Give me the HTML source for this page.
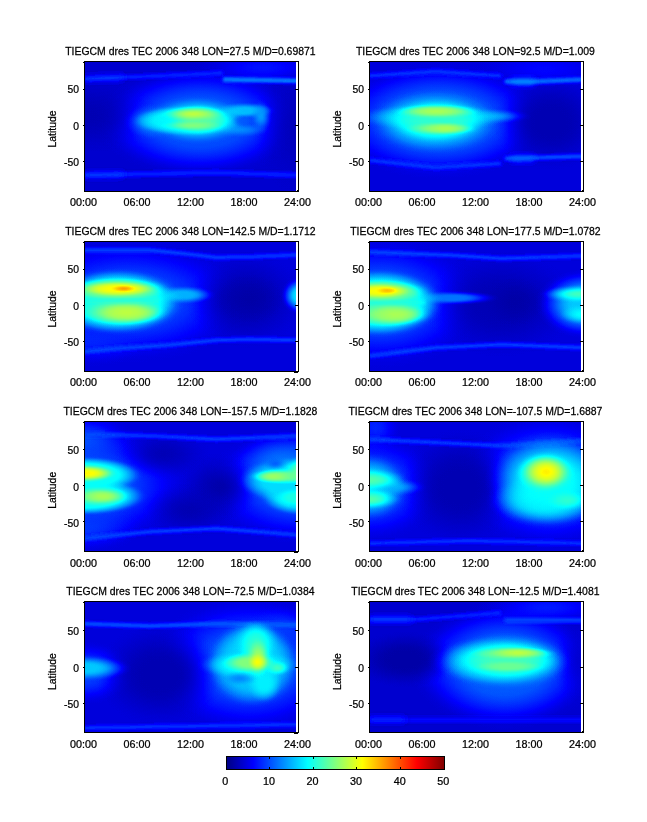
<!DOCTYPE html>
<html lang="en"><head><meta charset="utf-8"><title>TIEGCM dres TEC 2006 348</title>
<style>html,body{margin:0;padding:0;background:#fff}body{width:647px;height:822px;overflow:hidden}svg{display:block}text{font-family:"Liberation Sans",Arial,Helvetica,sans-serif;font-size:11px;fill:#000;stroke:#000;stroke-width:.25px}</style></head><body>
<svg width="647" height="822" viewBox="0 0 647 822">
<defs>
<filter id="jet" filterUnits="userSpaceOnUse" x="0" y="0" width="214" height="132" color-interpolation-filters="sRGB"><feComponentTransfer><feFuncR type="table" tableValues="0 0 0 0 .5 1 1 1 .5"/><feFuncG type="table" tableValues="0 0 .5 1 1 1 .5 0 0"/><feFuncB type="table" tableValues=".5 1 1 1 .5 0 0 0 0"/></feComponentTransfer></filter>
<filter id="b1" filterUnits="userSpaceOnUse" x="-30" y="-30" width="274" height="191"><feGaussianBlur stdDeviation="0.8"/></filter>
<filter id="b2" filterUnits="userSpaceOnUse" x="-30" y="-30" width="274" height="191"><feGaussianBlur stdDeviation="1.6"/></filter>
<filter id="b3" filterUnits="userSpaceOnUse" x="-30" y="-30" width="274" height="191"><feGaussianBlur stdDeviation="3.0"/></filter>
<filter id="b4" filterUnits="userSpaceOnUse" x="-30" y="-30" width="274" height="191"><feGaussianBlur stdDeviation="5.0"/></filter>
<radialGradient id="g10_2"><stop offset="0" stop-color="#0a0a0a" stop-opacity="1"/><stop offset=".25" stop-color="#0a0a0a" stop-opacity="1"/><stop offset=".34" stop-color="#0a0a0a" stop-opacity=".96"/><stop offset=".44" stop-color="#0a0a0a" stop-opacity=".84"/><stop offset=".53" stop-color="#0a0a0a" stop-opacity=".68"/><stop offset=".62" stop-color="#0a0a0a" stop-opacity=".5"/><stop offset=".72" stop-color="#0a0a0a" stop-opacity=".32"/><stop offset=".81" stop-color="#0a0a0a" stop-opacity=".16"/><stop offset=".91" stop-color="#0a0a0a" stop-opacity=".04"/><stop offset="1" stop-color="#0a0a0a" stop-opacity="0"/></radialGradient>
<radialGradient id="g10_3"><stop offset="0" stop-color="#0a0a0a" stop-opacity="1"/><stop offset=".12" stop-color="#0a0a0a" stop-opacity=".96"/><stop offset=".25" stop-color="#0a0a0a" stop-opacity=".84"/><stop offset=".38" stop-color="#0a0a0a" stop-opacity=".68"/><stop offset=".5" stop-color="#0a0a0a" stop-opacity=".5"/><stop offset=".62" stop-color="#0a0a0a" stop-opacity=".32"/><stop offset=".75" stop-color="#0a0a0a" stop-opacity=".16"/><stop offset=".88" stop-color="#0a0a0a" stop-opacity=".04"/><stop offset="1" stop-color="#0a0a0a" stop-opacity="0"/></radialGradient>
<radialGradient id="g11_3"><stop offset="0" stop-color="#0b0b0b" stop-opacity="1"/><stop offset=".12" stop-color="#0b0b0b" stop-opacity=".96"/><stop offset=".25" stop-color="#0b0b0b" stop-opacity=".84"/><stop offset=".38" stop-color="#0b0b0b" stop-opacity=".68"/><stop offset=".5" stop-color="#0b0b0b" stop-opacity=".5"/><stop offset=".62" stop-color="#0b0b0b" stop-opacity=".32"/><stop offset=".75" stop-color="#0b0b0b" stop-opacity=".16"/><stop offset=".88" stop-color="#0b0b0b" stop-opacity=".04"/><stop offset="1" stop-color="#0b0b0b" stop-opacity="0"/></radialGradient>
<radialGradient id="g13_2"><stop offset="0" stop-color="#0d0d0d" stop-opacity="1"/><stop offset=".25" stop-color="#0d0d0d" stop-opacity="1"/><stop offset=".34" stop-color="#0d0d0d" stop-opacity=".96"/><stop offset=".44" stop-color="#0d0d0d" stop-opacity=".84"/><stop offset=".53" stop-color="#0d0d0d" stop-opacity=".68"/><stop offset=".62" stop-color="#0d0d0d" stop-opacity=".5"/><stop offset=".72" stop-color="#0d0d0d" stop-opacity=".32"/><stop offset=".81" stop-color="#0d0d0d" stop-opacity=".16"/><stop offset=".91" stop-color="#0d0d0d" stop-opacity=".04"/><stop offset="1" stop-color="#0d0d0d" stop-opacity="0"/></radialGradient>
<radialGradient id="g13_3"><stop offset="0" stop-color="#0d0d0d" stop-opacity="1"/><stop offset=".12" stop-color="#0d0d0d" stop-opacity=".96"/><stop offset=".25" stop-color="#0d0d0d" stop-opacity=".84"/><stop offset=".38" stop-color="#0d0d0d" stop-opacity=".68"/><stop offset=".5" stop-color="#0d0d0d" stop-opacity=".5"/><stop offset=".62" stop-color="#0d0d0d" stop-opacity=".32"/><stop offset=".75" stop-color="#0d0d0d" stop-opacity=".16"/><stop offset=".88" stop-color="#0d0d0d" stop-opacity=".04"/><stop offset="1" stop-color="#0d0d0d" stop-opacity="0"/></radialGradient>
<radialGradient id="g14_2"><stop offset="0" stop-color="#0e0e0e" stop-opacity="1"/><stop offset=".25" stop-color="#0e0e0e" stop-opacity="1"/><stop offset=".34" stop-color="#0e0e0e" stop-opacity=".96"/><stop offset=".44" stop-color="#0e0e0e" stop-opacity=".84"/><stop offset=".53" stop-color="#0e0e0e" stop-opacity=".68"/><stop offset=".62" stop-color="#0e0e0e" stop-opacity=".5"/><stop offset=".72" stop-color="#0e0e0e" stop-opacity=".32"/><stop offset=".81" stop-color="#0e0e0e" stop-opacity=".16"/><stop offset=".91" stop-color="#0e0e0e" stop-opacity=".04"/><stop offset="1" stop-color="#0e0e0e" stop-opacity="0"/></radialGradient>
<radialGradient id="g14_3"><stop offset="0" stop-color="#0e0e0e" stop-opacity="1"/><stop offset=".12" stop-color="#0e0e0e" stop-opacity=".96"/><stop offset=".25" stop-color="#0e0e0e" stop-opacity=".84"/><stop offset=".38" stop-color="#0e0e0e" stop-opacity=".68"/><stop offset=".5" stop-color="#0e0e0e" stop-opacity=".5"/><stop offset=".62" stop-color="#0e0e0e" stop-opacity=".32"/><stop offset=".75" stop-color="#0e0e0e" stop-opacity=".16"/><stop offset=".88" stop-color="#0e0e0e" stop-opacity=".04"/><stop offset="1" stop-color="#0e0e0e" stop-opacity="0"/></radialGradient>
<radialGradient id="g15_3"><stop offset="0" stop-color="#0f0f0f" stop-opacity="1"/><stop offset=".12" stop-color="#0f0f0f" stop-opacity=".96"/><stop offset=".25" stop-color="#0f0f0f" stop-opacity=".84"/><stop offset=".38" stop-color="#0f0f0f" stop-opacity=".68"/><stop offset=".5" stop-color="#0f0f0f" stop-opacity=".5"/><stop offset=".62" stop-color="#0f0f0f" stop-opacity=".32"/><stop offset=".75" stop-color="#0f0f0f" stop-opacity=".16"/><stop offset=".88" stop-color="#0f0f0f" stop-opacity=".04"/><stop offset="1" stop-color="#0f0f0f" stop-opacity="0"/></radialGradient>
<radialGradient id="g20_3"><stop offset="0" stop-color="#141414" stop-opacity="1"/><stop offset=".12" stop-color="#141414" stop-opacity=".96"/><stop offset=".25" stop-color="#141414" stop-opacity=".84"/><stop offset=".38" stop-color="#141414" stop-opacity=".68"/><stop offset=".5" stop-color="#141414" stop-opacity=".5"/><stop offset=".62" stop-color="#141414" stop-opacity=".32"/><stop offset=".75" stop-color="#141414" stop-opacity=".16"/><stop offset=".88" stop-color="#141414" stop-opacity=".04"/><stop offset="1" stop-color="#141414" stop-opacity="0"/></radialGradient>
<radialGradient id="g33_3"><stop offset="0" stop-color="#212121" stop-opacity="1"/><stop offset=".12" stop-color="#212121" stop-opacity=".96"/><stop offset=".25" stop-color="#212121" stop-opacity=".84"/><stop offset=".38" stop-color="#212121" stop-opacity=".68"/><stop offset=".5" stop-color="#212121" stop-opacity=".5"/><stop offset=".62" stop-color="#212121" stop-opacity=".32"/><stop offset=".75" stop-color="#212121" stop-opacity=".16"/><stop offset=".88" stop-color="#212121" stop-opacity=".04"/><stop offset="1" stop-color="#212121" stop-opacity="0"/></radialGradient>
<radialGradient id="g36_3"><stop offset="0" stop-color="#242424" stop-opacity="1"/><stop offset=".12" stop-color="#242424" stop-opacity=".96"/><stop offset=".25" stop-color="#242424" stop-opacity=".84"/><stop offset=".38" stop-color="#242424" stop-opacity=".68"/><stop offset=".5" stop-color="#242424" stop-opacity=".5"/><stop offset=".62" stop-color="#242424" stop-opacity=".32"/><stop offset=".75" stop-color="#242424" stop-opacity=".16"/><stop offset=".88" stop-color="#242424" stop-opacity=".04"/><stop offset="1" stop-color="#242424" stop-opacity="0"/></radialGradient>
<radialGradient id="g38_3"><stop offset="0" stop-color="#262626" stop-opacity="1"/><stop offset=".12" stop-color="#262626" stop-opacity=".96"/><stop offset=".25" stop-color="#262626" stop-opacity=".84"/><stop offset=".38" stop-color="#262626" stop-opacity=".68"/><stop offset=".5" stop-color="#262626" stop-opacity=".5"/><stop offset=".62" stop-color="#262626" stop-opacity=".32"/><stop offset=".75" stop-color="#262626" stop-opacity=".16"/><stop offset=".88" stop-color="#262626" stop-opacity=".04"/><stop offset="1" stop-color="#262626" stop-opacity="0"/></radialGradient>
<radialGradient id="g41_3"><stop offset="0" stop-color="#292929" stop-opacity="1"/><stop offset=".12" stop-color="#292929" stop-opacity=".96"/><stop offset=".25" stop-color="#292929" stop-opacity=".84"/><stop offset=".38" stop-color="#292929" stop-opacity=".68"/><stop offset=".5" stop-color="#292929" stop-opacity=".5"/><stop offset=".62" stop-color="#292929" stop-opacity=".32"/><stop offset=".75" stop-color="#292929" stop-opacity=".16"/><stop offset=".88" stop-color="#292929" stop-opacity=".04"/><stop offset="1" stop-color="#292929" stop-opacity="0"/></radialGradient>
<radialGradient id="g46_2"><stop offset="0" stop-color="#2e2e2e" stop-opacity="1"/><stop offset=".25" stop-color="#2e2e2e" stop-opacity="1"/><stop offset=".34" stop-color="#2e2e2e" stop-opacity=".96"/><stop offset=".44" stop-color="#2e2e2e" stop-opacity=".84"/><stop offset=".53" stop-color="#2e2e2e" stop-opacity=".68"/><stop offset=".62" stop-color="#2e2e2e" stop-opacity=".5"/><stop offset=".72" stop-color="#2e2e2e" stop-opacity=".32"/><stop offset=".81" stop-color="#2e2e2e" stop-opacity=".16"/><stop offset=".91" stop-color="#2e2e2e" stop-opacity=".04"/><stop offset="1" stop-color="#2e2e2e" stop-opacity="0"/></radialGradient>
<radialGradient id="g46_3"><stop offset="0" stop-color="#2e2e2e" stop-opacity="1"/><stop offset=".12" stop-color="#2e2e2e" stop-opacity=".96"/><stop offset=".25" stop-color="#2e2e2e" stop-opacity=".84"/><stop offset=".38" stop-color="#2e2e2e" stop-opacity=".68"/><stop offset=".5" stop-color="#2e2e2e" stop-opacity=".5"/><stop offset=".62" stop-color="#2e2e2e" stop-opacity=".32"/><stop offset=".75" stop-color="#2e2e2e" stop-opacity=".16"/><stop offset=".88" stop-color="#2e2e2e" stop-opacity=".04"/><stop offset="1" stop-color="#2e2e2e" stop-opacity="0"/></radialGradient>
<radialGradient id="g51_2"><stop offset="0" stop-color="#333333" stop-opacity="1"/><stop offset=".25" stop-color="#333333" stop-opacity="1"/><stop offset=".34" stop-color="#333333" stop-opacity=".96"/><stop offset=".44" stop-color="#333333" stop-opacity=".84"/><stop offset=".53" stop-color="#333333" stop-opacity=".68"/><stop offset=".62" stop-color="#333333" stop-opacity=".5"/><stop offset=".72" stop-color="#333333" stop-opacity=".32"/><stop offset=".81" stop-color="#333333" stop-opacity=".16"/><stop offset=".91" stop-color="#333333" stop-opacity=".04"/><stop offset="1" stop-color="#333333" stop-opacity="0"/></radialGradient>
<radialGradient id="g51_3"><stop offset="0" stop-color="#333333" stop-opacity="1"/><stop offset=".12" stop-color="#333333" stop-opacity=".96"/><stop offset=".25" stop-color="#333333" stop-opacity=".84"/><stop offset=".38" stop-color="#333333" stop-opacity=".68"/><stop offset=".5" stop-color="#333333" stop-opacity=".5"/><stop offset=".62" stop-color="#333333" stop-opacity=".32"/><stop offset=".75" stop-color="#333333" stop-opacity=".16"/><stop offset=".88" stop-color="#333333" stop-opacity=".04"/><stop offset="1" stop-color="#333333" stop-opacity="0"/></radialGradient>
<radialGradient id="g51_4"><stop offset="0" stop-color="#333333" stop-opacity="1"/><stop offset=".38" stop-color="#333333" stop-opacity="1"/><stop offset=".46" stop-color="#333333" stop-opacity=".96"/><stop offset=".53" stop-color="#333333" stop-opacity=".84"/><stop offset=".61" stop-color="#333333" stop-opacity=".68"/><stop offset=".69" stop-color="#333333" stop-opacity=".5"/><stop offset=".77" stop-color="#333333" stop-opacity=".32"/><stop offset=".84" stop-color="#333333" stop-opacity=".16"/><stop offset=".92" stop-color="#333333" stop-opacity=".04"/><stop offset="1" stop-color="#333333" stop-opacity="0"/></radialGradient>
<radialGradient id="g54_2"><stop offset="0" stop-color="#363636" stop-opacity="1"/><stop offset=".25" stop-color="#363636" stop-opacity="1"/><stop offset=".34" stop-color="#363636" stop-opacity=".96"/><stop offset=".44" stop-color="#363636" stop-opacity=".84"/><stop offset=".53" stop-color="#363636" stop-opacity=".68"/><stop offset=".62" stop-color="#363636" stop-opacity=".5"/><stop offset=".72" stop-color="#363636" stop-opacity=".32"/><stop offset=".81" stop-color="#363636" stop-opacity=".16"/><stop offset=".91" stop-color="#363636" stop-opacity=".04"/><stop offset="1" stop-color="#363636" stop-opacity="0"/></radialGradient>
<radialGradient id="g54_3"><stop offset="0" stop-color="#363636" stop-opacity="1"/><stop offset=".12" stop-color="#363636" stop-opacity=".96"/><stop offset=".25" stop-color="#363636" stop-opacity=".84"/><stop offset=".38" stop-color="#363636" stop-opacity=".68"/><stop offset=".5" stop-color="#363636" stop-opacity=".5"/><stop offset=".62" stop-color="#363636" stop-opacity=".32"/><stop offset=".75" stop-color="#363636" stop-opacity=".16"/><stop offset=".88" stop-color="#363636" stop-opacity=".04"/><stop offset="1" stop-color="#363636" stop-opacity="0"/></radialGradient>
<radialGradient id="g54_4"><stop offset="0" stop-color="#363636" stop-opacity="1"/><stop offset=".38" stop-color="#363636" stop-opacity="1"/><stop offset=".46" stop-color="#363636" stop-opacity=".96"/><stop offset=".53" stop-color="#363636" stop-opacity=".84"/><stop offset=".61" stop-color="#363636" stop-opacity=".68"/><stop offset=".69" stop-color="#363636" stop-opacity=".5"/><stop offset=".77" stop-color="#363636" stop-opacity=".32"/><stop offset=".84" stop-color="#363636" stop-opacity=".16"/><stop offset=".92" stop-color="#363636" stop-opacity=".04"/><stop offset="1" stop-color="#363636" stop-opacity="0"/></radialGradient>
<radialGradient id="g56_2"><stop offset="0" stop-color="#383838" stop-opacity="1"/><stop offset=".25" stop-color="#383838" stop-opacity="1"/><stop offset=".34" stop-color="#383838" stop-opacity=".96"/><stop offset=".44" stop-color="#383838" stop-opacity=".84"/><stop offset=".53" stop-color="#383838" stop-opacity=".68"/><stop offset=".62" stop-color="#383838" stop-opacity=".5"/><stop offset=".72" stop-color="#383838" stop-opacity=".32"/><stop offset=".81" stop-color="#383838" stop-opacity=".16"/><stop offset=".91" stop-color="#383838" stop-opacity=".04"/><stop offset="1" stop-color="#383838" stop-opacity="0"/></radialGradient>
<radialGradient id="g56_3"><stop offset="0" stop-color="#383838" stop-opacity="1"/><stop offset=".12" stop-color="#383838" stop-opacity=".96"/><stop offset=".25" stop-color="#383838" stop-opacity=".84"/><stop offset=".38" stop-color="#383838" stop-opacity=".68"/><stop offset=".5" stop-color="#383838" stop-opacity=".5"/><stop offset=".62" stop-color="#383838" stop-opacity=".32"/><stop offset=".75" stop-color="#383838" stop-opacity=".16"/><stop offset=".88" stop-color="#383838" stop-opacity=".04"/><stop offset="1" stop-color="#383838" stop-opacity="0"/></radialGradient>
<radialGradient id="g61_2"><stop offset="0" stop-color="#3d3d3d" stop-opacity="1"/><stop offset=".25" stop-color="#3d3d3d" stop-opacity="1"/><stop offset=".34" stop-color="#3d3d3d" stop-opacity=".96"/><stop offset=".44" stop-color="#3d3d3d" stop-opacity=".84"/><stop offset=".53" stop-color="#3d3d3d" stop-opacity=".68"/><stop offset=".62" stop-color="#3d3d3d" stop-opacity=".5"/><stop offset=".72" stop-color="#3d3d3d" stop-opacity=".32"/><stop offset=".81" stop-color="#3d3d3d" stop-opacity=".16"/><stop offset=".91" stop-color="#3d3d3d" stop-opacity=".04"/><stop offset="1" stop-color="#3d3d3d" stop-opacity="0"/></radialGradient>
<radialGradient id="g61_3"><stop offset="0" stop-color="#3d3d3d" stop-opacity="1"/><stop offset=".12" stop-color="#3d3d3d" stop-opacity=".96"/><stop offset=".25" stop-color="#3d3d3d" stop-opacity=".84"/><stop offset=".38" stop-color="#3d3d3d" stop-opacity=".68"/><stop offset=".5" stop-color="#3d3d3d" stop-opacity=".5"/><stop offset=".62" stop-color="#3d3d3d" stop-opacity=".32"/><stop offset=".75" stop-color="#3d3d3d" stop-opacity=".16"/><stop offset=".88" stop-color="#3d3d3d" stop-opacity=".04"/><stop offset="1" stop-color="#3d3d3d" stop-opacity="0"/></radialGradient>
<radialGradient id="g66_3"><stop offset="0" stop-color="#424242" stop-opacity="1"/><stop offset=".12" stop-color="#424242" stop-opacity=".96"/><stop offset=".25" stop-color="#424242" stop-opacity=".84"/><stop offset=".38" stop-color="#424242" stop-opacity=".68"/><stop offset=".5" stop-color="#424242" stop-opacity=".5"/><stop offset=".62" stop-color="#424242" stop-opacity=".32"/><stop offset=".75" stop-color="#424242" stop-opacity=".16"/><stop offset=".88" stop-color="#424242" stop-opacity=".04"/><stop offset="1" stop-color="#424242" stop-opacity="0"/></radialGradient>
<radialGradient id="g71_3"><stop offset="0" stop-color="#474747" stop-opacity="1"/><stop offset=".12" stop-color="#474747" stop-opacity=".96"/><stop offset=".25" stop-color="#474747" stop-opacity=".84"/><stop offset=".38" stop-color="#474747" stop-opacity=".68"/><stop offset=".5" stop-color="#474747" stop-opacity=".5"/><stop offset=".62" stop-color="#474747" stop-opacity=".32"/><stop offset=".75" stop-color="#474747" stop-opacity=".16"/><stop offset=".88" stop-color="#474747" stop-opacity=".04"/><stop offset="1" stop-color="#474747" stop-opacity="0"/></radialGradient>
<radialGradient id="g74_1"><stop offset="0" stop-color="#4a4a4a" stop-opacity="1"/><stop offset=".54" stop-color="#4a4a4a" stop-opacity="1"/><stop offset=".6" stop-color="#4a4a4a" stop-opacity=".96"/><stop offset=".65" stop-color="#4a4a4a" stop-opacity=".84"/><stop offset=".71" stop-color="#4a4a4a" stop-opacity=".68"/><stop offset=".77" stop-color="#4a4a4a" stop-opacity=".5"/><stop offset=".83" stop-color="#4a4a4a" stop-opacity=".32"/><stop offset=".88" stop-color="#4a4a4a" stop-opacity=".16"/><stop offset=".94" stop-color="#4a4a4a" stop-opacity=".04"/><stop offset="1" stop-color="#4a4a4a" stop-opacity="0"/></radialGradient>
<radialGradient id="g76_2"><stop offset="0" stop-color="#4c4c4c" stop-opacity="1"/><stop offset=".25" stop-color="#4c4c4c" stop-opacity="1"/><stop offset=".34" stop-color="#4c4c4c" stop-opacity=".96"/><stop offset=".44" stop-color="#4c4c4c" stop-opacity=".84"/><stop offset=".53" stop-color="#4c4c4c" stop-opacity=".68"/><stop offset=".62" stop-color="#4c4c4c" stop-opacity=".5"/><stop offset=".72" stop-color="#4c4c4c" stop-opacity=".32"/><stop offset=".81" stop-color="#4c4c4c" stop-opacity=".16"/><stop offset=".91" stop-color="#4c4c4c" stop-opacity=".04"/><stop offset="1" stop-color="#4c4c4c" stop-opacity="0"/></radialGradient>
<radialGradient id="g76_3"><stop offset="0" stop-color="#4c4c4c" stop-opacity="1"/><stop offset=".12" stop-color="#4c4c4c" stop-opacity=".96"/><stop offset=".25" stop-color="#4c4c4c" stop-opacity=".84"/><stop offset=".38" stop-color="#4c4c4c" stop-opacity=".68"/><stop offset=".5" stop-color="#4c4c4c" stop-opacity=".5"/><stop offset=".62" stop-color="#4c4c4c" stop-opacity=".32"/><stop offset=".75" stop-color="#4c4c4c" stop-opacity=".16"/><stop offset=".88" stop-color="#4c4c4c" stop-opacity=".04"/><stop offset="1" stop-color="#4c4c4c" stop-opacity="0"/></radialGradient>
<radialGradient id="g79_2"><stop offset="0" stop-color="#4f4f4f" stop-opacity="1"/><stop offset=".25" stop-color="#4f4f4f" stop-opacity="1"/><stop offset=".34" stop-color="#4f4f4f" stop-opacity=".96"/><stop offset=".44" stop-color="#4f4f4f" stop-opacity=".84"/><stop offset=".53" stop-color="#4f4f4f" stop-opacity=".68"/><stop offset=".62" stop-color="#4f4f4f" stop-opacity=".5"/><stop offset=".72" stop-color="#4f4f4f" stop-opacity=".32"/><stop offset=".81" stop-color="#4f4f4f" stop-opacity=".16"/><stop offset=".91" stop-color="#4f4f4f" stop-opacity=".04"/><stop offset="1" stop-color="#4f4f4f" stop-opacity="0"/></radialGradient>
<radialGradient id="g82_2"><stop offset="0" stop-color="#525252" stop-opacity="1"/><stop offset=".25" stop-color="#525252" stop-opacity="1"/><stop offset=".34" stop-color="#525252" stop-opacity=".96"/><stop offset=".44" stop-color="#525252" stop-opacity=".84"/><stop offset=".53" stop-color="#525252" stop-opacity=".68"/><stop offset=".62" stop-color="#525252" stop-opacity=".5"/><stop offset=".72" stop-color="#525252" stop-opacity=".32"/><stop offset=".81" stop-color="#525252" stop-opacity=".16"/><stop offset=".91" stop-color="#525252" stop-opacity=".04"/><stop offset="1" stop-color="#525252" stop-opacity="0"/></radialGradient>
<radialGradient id="g87_1"><stop offset="0" stop-color="#575757" stop-opacity="1"/><stop offset=".54" stop-color="#575757" stop-opacity="1"/><stop offset=".6" stop-color="#575757" stop-opacity=".96"/><stop offset=".65" stop-color="#575757" stop-opacity=".84"/><stop offset=".71" stop-color="#575757" stop-opacity=".68"/><stop offset=".77" stop-color="#575757" stop-opacity=".5"/><stop offset=".83" stop-color="#575757" stop-opacity=".32"/><stop offset=".88" stop-color="#575757" stop-opacity=".16"/><stop offset=".94" stop-color="#575757" stop-opacity=".04"/><stop offset="1" stop-color="#575757" stop-opacity="0"/></radialGradient>
<radialGradient id="g87_2"><stop offset="0" stop-color="#575757" stop-opacity="1"/><stop offset=".25" stop-color="#575757" stop-opacity="1"/><stop offset=".34" stop-color="#575757" stop-opacity=".96"/><stop offset=".44" stop-color="#575757" stop-opacity=".84"/><stop offset=".53" stop-color="#575757" stop-opacity=".68"/><stop offset=".62" stop-color="#575757" stop-opacity=".5"/><stop offset=".72" stop-color="#575757" stop-opacity=".32"/><stop offset=".81" stop-color="#575757" stop-opacity=".16"/><stop offset=".91" stop-color="#575757" stop-opacity=".04"/><stop offset="1" stop-color="#575757" stop-opacity="0"/></radialGradient>
<radialGradient id="g92_1"><stop offset="0" stop-color="#5c5c5c" stop-opacity="1"/><stop offset=".54" stop-color="#5c5c5c" stop-opacity="1"/><stop offset=".6" stop-color="#5c5c5c" stop-opacity=".96"/><stop offset=".65" stop-color="#5c5c5c" stop-opacity=".84"/><stop offset=".71" stop-color="#5c5c5c" stop-opacity=".68"/><stop offset=".77" stop-color="#5c5c5c" stop-opacity=".5"/><stop offset=".83" stop-color="#5c5c5c" stop-opacity=".32"/><stop offset=".88" stop-color="#5c5c5c" stop-opacity=".16"/><stop offset=".94" stop-color="#5c5c5c" stop-opacity=".04"/><stop offset="1" stop-color="#5c5c5c" stop-opacity="0"/></radialGradient>
<radialGradient id="g92_2"><stop offset="0" stop-color="#5c5c5c" stop-opacity="1"/><stop offset=".25" stop-color="#5c5c5c" stop-opacity="1"/><stop offset=".34" stop-color="#5c5c5c" stop-opacity=".96"/><stop offset=".44" stop-color="#5c5c5c" stop-opacity=".84"/><stop offset=".53" stop-color="#5c5c5c" stop-opacity=".68"/><stop offset=".62" stop-color="#5c5c5c" stop-opacity=".5"/><stop offset=".72" stop-color="#5c5c5c" stop-opacity=".32"/><stop offset=".81" stop-color="#5c5c5c" stop-opacity=".16"/><stop offset=".91" stop-color="#5c5c5c" stop-opacity=".04"/><stop offset="1" stop-color="#5c5c5c" stop-opacity="0"/></radialGradient>
<radialGradient id="g94_2"><stop offset="0" stop-color="#5e5e5e" stop-opacity="1"/><stop offset=".25" stop-color="#5e5e5e" stop-opacity="1"/><stop offset=".34" stop-color="#5e5e5e" stop-opacity=".96"/><stop offset=".44" stop-color="#5e5e5e" stop-opacity=".84"/><stop offset=".53" stop-color="#5e5e5e" stop-opacity=".68"/><stop offset=".62" stop-color="#5e5e5e" stop-opacity=".5"/><stop offset=".72" stop-color="#5e5e5e" stop-opacity=".32"/><stop offset=".81" stop-color="#5e5e5e" stop-opacity=".16"/><stop offset=".91" stop-color="#5e5e5e" stop-opacity=".04"/><stop offset="1" stop-color="#5e5e5e" stop-opacity="0"/></radialGradient>
<radialGradient id="g97_1"><stop offset="0" stop-color="#616161" stop-opacity="1"/><stop offset=".54" stop-color="#616161" stop-opacity="1"/><stop offset=".6" stop-color="#616161" stop-opacity=".96"/><stop offset=".65" stop-color="#616161" stop-opacity=".84"/><stop offset=".71" stop-color="#616161" stop-opacity=".68"/><stop offset=".77" stop-color="#616161" stop-opacity=".5"/><stop offset=".83" stop-color="#616161" stop-opacity=".32"/><stop offset=".88" stop-color="#616161" stop-opacity=".16"/><stop offset=".94" stop-color="#616161" stop-opacity=".04"/><stop offset="1" stop-color="#616161" stop-opacity="0"/></radialGradient>
<radialGradient id="g97_2"><stop offset="0" stop-color="#616161" stop-opacity="1"/><stop offset=".25" stop-color="#616161" stop-opacity="1"/><stop offset=".34" stop-color="#616161" stop-opacity=".96"/><stop offset=".44" stop-color="#616161" stop-opacity=".84"/><stop offset=".53" stop-color="#616161" stop-opacity=".68"/><stop offset=".62" stop-color="#616161" stop-opacity=".5"/><stop offset=".72" stop-color="#616161" stop-opacity=".32"/><stop offset=".81" stop-color="#616161" stop-opacity=".16"/><stop offset=".91" stop-color="#616161" stop-opacity=".04"/><stop offset="1" stop-color="#616161" stop-opacity="0"/></radialGradient>
<radialGradient id="g97_3"><stop offset="0" stop-color="#616161" stop-opacity="1"/><stop offset=".12" stop-color="#616161" stop-opacity=".96"/><stop offset=".25" stop-color="#616161" stop-opacity=".84"/><stop offset=".38" stop-color="#616161" stop-opacity=".68"/><stop offset=".5" stop-color="#616161" stop-opacity=".5"/><stop offset=".62" stop-color="#616161" stop-opacity=".32"/><stop offset=".75" stop-color="#616161" stop-opacity=".16"/><stop offset=".88" stop-color="#616161" stop-opacity=".04"/><stop offset="1" stop-color="#616161" stop-opacity="0"/></radialGradient>
<radialGradient id="g102_2"><stop offset="0" stop-color="#666666" stop-opacity="1"/><stop offset=".25" stop-color="#666666" stop-opacity="1"/><stop offset=".34" stop-color="#666666" stop-opacity=".96"/><stop offset=".44" stop-color="#666666" stop-opacity=".84"/><stop offset=".53" stop-color="#666666" stop-opacity=".68"/><stop offset=".62" stop-color="#666666" stop-opacity=".5"/><stop offset=".72" stop-color="#666666" stop-opacity=".32"/><stop offset=".81" stop-color="#666666" stop-opacity=".16"/><stop offset=".91" stop-color="#666666" stop-opacity=".04"/><stop offset="1" stop-color="#666666" stop-opacity="0"/></radialGradient>
<radialGradient id="g107_2"><stop offset="0" stop-color="#6b6b6b" stop-opacity="1"/><stop offset=".25" stop-color="#6b6b6b" stop-opacity="1"/><stop offset=".34" stop-color="#6b6b6b" stop-opacity=".96"/><stop offset=".44" stop-color="#6b6b6b" stop-opacity=".84"/><stop offset=".53" stop-color="#6b6b6b" stop-opacity=".68"/><stop offset=".62" stop-color="#6b6b6b" stop-opacity=".5"/><stop offset=".72" stop-color="#6b6b6b" stop-opacity=".32"/><stop offset=".81" stop-color="#6b6b6b" stop-opacity=".16"/><stop offset=".91" stop-color="#6b6b6b" stop-opacity=".04"/><stop offset="1" stop-color="#6b6b6b" stop-opacity="0"/></radialGradient>
<radialGradient id="g107_3"><stop offset="0" stop-color="#6b6b6b" stop-opacity="1"/><stop offset=".12" stop-color="#6b6b6b" stop-opacity=".96"/><stop offset=".25" stop-color="#6b6b6b" stop-opacity=".84"/><stop offset=".38" stop-color="#6b6b6b" stop-opacity=".68"/><stop offset=".5" stop-color="#6b6b6b" stop-opacity=".5"/><stop offset=".62" stop-color="#6b6b6b" stop-opacity=".32"/><stop offset=".75" stop-color="#6b6b6b" stop-opacity=".16"/><stop offset=".88" stop-color="#6b6b6b" stop-opacity=".04"/><stop offset="1" stop-color="#6b6b6b" stop-opacity="0"/></radialGradient>
<radialGradient id="g112_2"><stop offset="0" stop-color="#707070" stop-opacity="1"/><stop offset=".25" stop-color="#707070" stop-opacity="1"/><stop offset=".34" stop-color="#707070" stop-opacity=".96"/><stop offset=".44" stop-color="#707070" stop-opacity=".84"/><stop offset=".53" stop-color="#707070" stop-opacity=".68"/><stop offset=".62" stop-color="#707070" stop-opacity=".5"/><stop offset=".72" stop-color="#707070" stop-opacity=".32"/><stop offset=".81" stop-color="#707070" stop-opacity=".16"/><stop offset=".91" stop-color="#707070" stop-opacity=".04"/><stop offset="1" stop-color="#707070" stop-opacity="0"/></radialGradient>
<radialGradient id="g112_3"><stop offset="0" stop-color="#707070" stop-opacity="1"/><stop offset=".12" stop-color="#707070" stop-opacity=".96"/><stop offset=".25" stop-color="#707070" stop-opacity=".84"/><stop offset=".38" stop-color="#707070" stop-opacity=".68"/><stop offset=".5" stop-color="#707070" stop-opacity=".5"/><stop offset=".62" stop-color="#707070" stop-opacity=".32"/><stop offset=".75" stop-color="#707070" stop-opacity=".16"/><stop offset=".88" stop-color="#707070" stop-opacity=".04"/><stop offset="1" stop-color="#707070" stop-opacity="0"/></radialGradient>
<radialGradient id="g117_2"><stop offset="0" stop-color="#757575" stop-opacity="1"/><stop offset=".25" stop-color="#757575" stop-opacity="1"/><stop offset=".34" stop-color="#757575" stop-opacity=".96"/><stop offset=".44" stop-color="#757575" stop-opacity=".84"/><stop offset=".53" stop-color="#757575" stop-opacity=".68"/><stop offset=".62" stop-color="#757575" stop-opacity=".5"/><stop offset=".72" stop-color="#757575" stop-opacity=".32"/><stop offset=".81" stop-color="#757575" stop-opacity=".16"/><stop offset=".91" stop-color="#757575" stop-opacity=".04"/><stop offset="1" stop-color="#757575" stop-opacity="0"/></radialGradient>
<radialGradient id="g117_3"><stop offset="0" stop-color="#757575" stop-opacity="1"/><stop offset=".12" stop-color="#757575" stop-opacity=".96"/><stop offset=".25" stop-color="#757575" stop-opacity=".84"/><stop offset=".38" stop-color="#757575" stop-opacity=".68"/><stop offset=".5" stop-color="#757575" stop-opacity=".5"/><stop offset=".62" stop-color="#757575" stop-opacity=".32"/><stop offset=".75" stop-color="#757575" stop-opacity=".16"/><stop offset=".88" stop-color="#757575" stop-opacity=".04"/><stop offset="1" stop-color="#757575" stop-opacity="0"/></radialGradient>
<radialGradient id="g122_2"><stop offset="0" stop-color="#7a7a7a" stop-opacity="1"/><stop offset=".25" stop-color="#7a7a7a" stop-opacity="1"/><stop offset=".34" stop-color="#7a7a7a" stop-opacity=".96"/><stop offset=".44" stop-color="#7a7a7a" stop-opacity=".84"/><stop offset=".53" stop-color="#7a7a7a" stop-opacity=".68"/><stop offset=".62" stop-color="#7a7a7a" stop-opacity=".5"/><stop offset=".72" stop-color="#7a7a7a" stop-opacity=".32"/><stop offset=".81" stop-color="#7a7a7a" stop-opacity=".16"/><stop offset=".91" stop-color="#7a7a7a" stop-opacity=".04"/><stop offset="1" stop-color="#7a7a7a" stop-opacity="0"/></radialGradient>
<radialGradient id="g122_3"><stop offset="0" stop-color="#7a7a7a" stop-opacity="1"/><stop offset=".12" stop-color="#7a7a7a" stop-opacity=".96"/><stop offset=".25" stop-color="#7a7a7a" stop-opacity=".84"/><stop offset=".38" stop-color="#7a7a7a" stop-opacity=".68"/><stop offset=".5" stop-color="#7a7a7a" stop-opacity=".5"/><stop offset=".62" stop-color="#7a7a7a" stop-opacity=".32"/><stop offset=".75" stop-color="#7a7a7a" stop-opacity=".16"/><stop offset=".88" stop-color="#7a7a7a" stop-opacity=".04"/><stop offset="1" stop-color="#7a7a7a" stop-opacity="0"/></radialGradient>
<radialGradient id="g125_2"><stop offset="0" stop-color="#7d7d7d" stop-opacity="1"/><stop offset=".25" stop-color="#7d7d7d" stop-opacity="1"/><stop offset=".34" stop-color="#7d7d7d" stop-opacity=".96"/><stop offset=".44" stop-color="#7d7d7d" stop-opacity=".84"/><stop offset=".53" stop-color="#7d7d7d" stop-opacity=".68"/><stop offset=".62" stop-color="#7d7d7d" stop-opacity=".5"/><stop offset=".72" stop-color="#7d7d7d" stop-opacity=".32"/><stop offset=".81" stop-color="#7d7d7d" stop-opacity=".16"/><stop offset=".91" stop-color="#7d7d7d" stop-opacity=".04"/><stop offset="1" stop-color="#7d7d7d" stop-opacity="0"/></radialGradient>
<radialGradient id="g128_2"><stop offset="0" stop-color="#808080" stop-opacity="1"/><stop offset=".25" stop-color="#808080" stop-opacity="1"/><stop offset=".34" stop-color="#808080" stop-opacity=".96"/><stop offset=".44" stop-color="#808080" stop-opacity=".84"/><stop offset=".53" stop-color="#808080" stop-opacity=".68"/><stop offset=".62" stop-color="#808080" stop-opacity=".5"/><stop offset=".72" stop-color="#808080" stop-opacity=".32"/><stop offset=".81" stop-color="#808080" stop-opacity=".16"/><stop offset=".91" stop-color="#808080" stop-opacity=".04"/><stop offset="1" stop-color="#808080" stop-opacity="0"/></radialGradient>
<radialGradient id="g128_3"><stop offset="0" stop-color="#808080" stop-opacity="1"/><stop offset=".12" stop-color="#808080" stop-opacity=".96"/><stop offset=".25" stop-color="#808080" stop-opacity=".84"/><stop offset=".38" stop-color="#808080" stop-opacity=".68"/><stop offset=".5" stop-color="#808080" stop-opacity=".5"/><stop offset=".62" stop-color="#808080" stop-opacity=".32"/><stop offset=".75" stop-color="#808080" stop-opacity=".16"/><stop offset=".88" stop-color="#808080" stop-opacity=".04"/><stop offset="1" stop-color="#808080" stop-opacity="0"/></radialGradient>
<radialGradient id="g133_2"><stop offset="0" stop-color="#858585" stop-opacity="1"/><stop offset=".25" stop-color="#858585" stop-opacity="1"/><stop offset=".34" stop-color="#858585" stop-opacity=".96"/><stop offset=".44" stop-color="#858585" stop-opacity=".84"/><stop offset=".53" stop-color="#858585" stop-opacity=".68"/><stop offset=".62" stop-color="#858585" stop-opacity=".5"/><stop offset=".72" stop-color="#858585" stop-opacity=".32"/><stop offset=".81" stop-color="#858585" stop-opacity=".16"/><stop offset=".91" stop-color="#858585" stop-opacity=".04"/><stop offset="1" stop-color="#858585" stop-opacity="0"/></radialGradient>
<radialGradient id="g135_3"><stop offset="0" stop-color="#878787" stop-opacity="1"/><stop offset=".12" stop-color="#878787" stop-opacity=".96"/><stop offset=".25" stop-color="#878787" stop-opacity=".84"/><stop offset=".38" stop-color="#878787" stop-opacity=".68"/><stop offset=".5" stop-color="#878787" stop-opacity=".5"/><stop offset=".62" stop-color="#878787" stop-opacity=".32"/><stop offset=".75" stop-color="#878787" stop-opacity=".16"/><stop offset=".88" stop-color="#878787" stop-opacity=".04"/><stop offset="1" stop-color="#878787" stop-opacity="0"/></radialGradient>
<radialGradient id="g138_2"><stop offset="0" stop-color="#8a8a8a" stop-opacity="1"/><stop offset=".25" stop-color="#8a8a8a" stop-opacity="1"/><stop offset=".34" stop-color="#8a8a8a" stop-opacity=".96"/><stop offset=".44" stop-color="#8a8a8a" stop-opacity=".84"/><stop offset=".53" stop-color="#8a8a8a" stop-opacity=".68"/><stop offset=".62" stop-color="#8a8a8a" stop-opacity=".5"/><stop offset=".72" stop-color="#8a8a8a" stop-opacity=".32"/><stop offset=".81" stop-color="#8a8a8a" stop-opacity=".16"/><stop offset=".91" stop-color="#8a8a8a" stop-opacity=".04"/><stop offset="1" stop-color="#8a8a8a" stop-opacity="0"/></radialGradient>
<radialGradient id="g138_3"><stop offset="0" stop-color="#8a8a8a" stop-opacity="1"/><stop offset=".12" stop-color="#8a8a8a" stop-opacity=".96"/><stop offset=".25" stop-color="#8a8a8a" stop-opacity=".84"/><stop offset=".38" stop-color="#8a8a8a" stop-opacity=".68"/><stop offset=".5" stop-color="#8a8a8a" stop-opacity=".5"/><stop offset=".62" stop-color="#8a8a8a" stop-opacity=".32"/><stop offset=".75" stop-color="#8a8a8a" stop-opacity=".16"/><stop offset=".88" stop-color="#8a8a8a" stop-opacity=".04"/><stop offset="1" stop-color="#8a8a8a" stop-opacity="0"/></radialGradient>
<radialGradient id="g143_3"><stop offset="0" stop-color="#8f8f8f" stop-opacity="1"/><stop offset=".12" stop-color="#8f8f8f" stop-opacity=".96"/><stop offset=".25" stop-color="#8f8f8f" stop-opacity=".84"/><stop offset=".38" stop-color="#8f8f8f" stop-opacity=".68"/><stop offset=".5" stop-color="#8f8f8f" stop-opacity=".5"/><stop offset=".62" stop-color="#8f8f8f" stop-opacity=".32"/><stop offset=".75" stop-color="#8f8f8f" stop-opacity=".16"/><stop offset=".88" stop-color="#8f8f8f" stop-opacity=".04"/><stop offset="1" stop-color="#8f8f8f" stop-opacity="0"/></radialGradient>
<radialGradient id="g158_2"><stop offset="0" stop-color="#9e9e9e" stop-opacity="1"/><stop offset=".25" stop-color="#9e9e9e" stop-opacity="1"/><stop offset=".34" stop-color="#9e9e9e" stop-opacity=".96"/><stop offset=".44" stop-color="#9e9e9e" stop-opacity=".84"/><stop offset=".53" stop-color="#9e9e9e" stop-opacity=".68"/><stop offset=".62" stop-color="#9e9e9e" stop-opacity=".5"/><stop offset=".72" stop-color="#9e9e9e" stop-opacity=".32"/><stop offset=".81" stop-color="#9e9e9e" stop-opacity=".16"/><stop offset=".91" stop-color="#9e9e9e" stop-opacity=".04"/><stop offset="1" stop-color="#9e9e9e" stop-opacity="0"/></radialGradient>
<radialGradient id="g158_3"><stop offset="0" stop-color="#9e9e9e" stop-opacity="1"/><stop offset=".12" stop-color="#9e9e9e" stop-opacity=".96"/><stop offset=".25" stop-color="#9e9e9e" stop-opacity=".84"/><stop offset=".38" stop-color="#9e9e9e" stop-opacity=".68"/><stop offset=".5" stop-color="#9e9e9e" stop-opacity=".5"/><stop offset=".62" stop-color="#9e9e9e" stop-opacity=".32"/><stop offset=".75" stop-color="#9e9e9e" stop-opacity=".16"/><stop offset=".88" stop-color="#9e9e9e" stop-opacity=".04"/><stop offset="1" stop-color="#9e9e9e" stop-opacity="0"/></radialGradient>
<radialGradient id="g161_3"><stop offset="0" stop-color="#a1a1a1" stop-opacity="1"/><stop offset=".12" stop-color="#a1a1a1" stop-opacity=".96"/><stop offset=".25" stop-color="#a1a1a1" stop-opacity=".84"/><stop offset=".38" stop-color="#a1a1a1" stop-opacity=".68"/><stop offset=".5" stop-color="#a1a1a1" stop-opacity=".5"/><stop offset=".62" stop-color="#a1a1a1" stop-opacity=".32"/><stop offset=".75" stop-color="#a1a1a1" stop-opacity=".16"/><stop offset=".88" stop-color="#a1a1a1" stop-opacity=".04"/><stop offset="1" stop-color="#a1a1a1" stop-opacity="0"/></radialGradient>
<radialGradient id="g163_3"><stop offset="0" stop-color="#a3a3a3" stop-opacity="1"/><stop offset=".12" stop-color="#a3a3a3" stop-opacity=".96"/><stop offset=".25" stop-color="#a3a3a3" stop-opacity=".84"/><stop offset=".38" stop-color="#a3a3a3" stop-opacity=".68"/><stop offset=".5" stop-color="#a3a3a3" stop-opacity=".5"/><stop offset=".62" stop-color="#a3a3a3" stop-opacity=".32"/><stop offset=".75" stop-color="#a3a3a3" stop-opacity=".16"/><stop offset=".88" stop-color="#a3a3a3" stop-opacity=".04"/><stop offset="1" stop-color="#a3a3a3" stop-opacity="0"/></radialGradient>
<radialGradient id="g176_3"><stop offset="0" stop-color="#b0b0b0" stop-opacity="1"/><stop offset=".12" stop-color="#b0b0b0" stop-opacity=".96"/><stop offset=".25" stop-color="#b0b0b0" stop-opacity=".84"/><stop offset=".38" stop-color="#b0b0b0" stop-opacity=".68"/><stop offset=".5" stop-color="#b0b0b0" stop-opacity=".5"/><stop offset=".62" stop-color="#b0b0b0" stop-opacity=".32"/><stop offset=".75" stop-color="#b0b0b0" stop-opacity=".16"/><stop offset=".88" stop-color="#b0b0b0" stop-opacity=".04"/><stop offset="1" stop-color="#b0b0b0" stop-opacity="0"/></radialGradient>
<radialGradient id="g184_3"><stop offset="0" stop-color="#b8b8b8" stop-opacity="1"/><stop offset=".12" stop-color="#b8b8b8" stop-opacity=".96"/><stop offset=".25" stop-color="#b8b8b8" stop-opacity=".84"/><stop offset=".38" stop-color="#b8b8b8" stop-opacity=".68"/><stop offset=".5" stop-color="#b8b8b8" stop-opacity=".5"/><stop offset=".62" stop-color="#b8b8b8" stop-opacity=".32"/><stop offset=".75" stop-color="#b8b8b8" stop-opacity=".16"/><stop offset=".88" stop-color="#b8b8b8" stop-opacity=".04"/><stop offset="1" stop-color="#b8b8b8" stop-opacity="0"/></radialGradient>
<linearGradient id="cb"><stop offset="0" stop-color="#000080"/><stop offset=".125" stop-color="#00f"/><stop offset=".375" stop-color="#0ff"/><stop offset=".625" stop-color="#ff0"/><stop offset=".875" stop-color="#f00"/><stop offset="1" stop-color="#800000"/></linearGradient>
<clipPath id="pc130"><rect x="0" y="0" width="212" height="130"/></clipPath>
<clipPath id="pc131"><rect x="0" y="0" width="212" height="131"/></clipPath>
</defs>
<rect width="647" height="822" fill="#fff"/>
<g transform="translate(84 61)">
<g clip-path="url(#pc130)"><g filter="url(#jet)">
<rect x="0" y="0" width="214" height="132" fill="#141414"/>
<ellipse cx="115.77" cy="60.53" rx="104.55" ry="56.11" fill="url(#g51_4)"/>
<ellipse cx="3.31" cy="54.57" rx="72.77" ry="39.69" fill="url(#g13_3)"/>
<ellipse cx="213.34" cy="66.15" rx="46.31" ry="72.77" fill="url(#g15_3)"/>
<ellipse cx="178.61" cy="6.62" rx="72.77" ry="19.85" fill="url(#g36_3)"/>
<path d="M0 17.86L66.15 15.21L138.92 11.91" fill="none" stroke="#2b2b2b" stroke-width="3.97" stroke-linejoin="round" filter="url(#b2)"/>
<path d="M0 17.86L39.69 16.54" fill="none" stroke="#333333" stroke-width="3.97" stroke-linejoin="round" filter="url(#b3)"/>
<path d="M138.92 18.52L214.99 19.85" fill="none" stroke="#424242" stroke-width="4.63" stroke-linejoin="round" filter="url(#b2)"/>
<path d="M0 114.11L132.3 111.8L214.99 114.11" fill="none" stroke="#2b2b2b" stroke-width="4.63" stroke-linejoin="round" filter="url(#b2)"/>
<path d="M0 114.11L39.69 113.45" fill="none" stroke="#333333" stroke-width="3.97" stroke-linejoin="round" filter="url(#b3)"/>
<ellipse cx="160.42" cy="49.61" rx="31.75" ry="8.47" fill="url(#g79_2)"/>
<ellipse cx="176.96" cy="55.57" rx="11.91" ry="17.2" fill="url(#g71_3)"/>
<ellipse cx="157.11" cy="68.8" rx="29.77" ry="7.94" fill="url(#g66_3)"/>
<ellipse cx="67.81" cy="60.53" rx="29.77" ry="18.52" fill="url(#g71_3)"/>
<ellipse cx="104.19" cy="59.54" rx="56.76" ry="15.91" fill="url(#g92_1)"/>
<ellipse cx="113.12" cy="58.87" rx="51.86" ry="24.34" fill="url(#g97_2)"/>
<ellipse cx="115.77" cy="58.54" rx="32.81" ry="15.88" fill="url(#g117_2)"/>
<ellipse cx="109.15" cy="52.92" rx="33.08" ry="7.94" fill="url(#g143_3)"/>
<ellipse cx="109.15" cy="64.5" rx="33.08" ry="5.95" fill="url(#g128_3)"/>
<ellipse cx="159.43" cy="59.87" rx="13.23" ry="6.62" fill="url(#g54_3)"/>
</g></g>
<path d="M0.5 0.5H214.5 V130.5 H0.5 Z" fill="none" stroke="#000" stroke-width="1" shape-rendering="crispEdges"/>
<path d="M214 28.5h-3M-1 28.5h1M214 64.5h-3M-1 64.5h1M214 100.5h-3M-1 100.5h1M213 129.5h1M-1 1.5h1" stroke="#000" stroke-width="1" shape-rendering="crispEdges"/>
<text transform="translate(106.4 -6) scale(.95 1)" text-anchor="middle">TIEGCM dres TEC 2006 348 LON=27.5 M/D=0.69871</text>
<text transform="translate(-5 32.39) scale(.94 1)" text-anchor="end">50</text>
<text transform="translate(-5 68.5) scale(.94 1)" text-anchor="end">0</text>
<text transform="translate(-5 104.61) scale(.94 1)" text-anchor="end">-50</text>
<text transform="translate(-.5 145) scale(.98 1)" text-anchor="middle">00:00</text>
<text transform="translate(53 145) scale(.98 1)" text-anchor="middle">06:00</text>
<text transform="translate(106.5 145) scale(.98 1)" text-anchor="middle">12:00</text>
<text transform="translate(160 145) scale(.98 1)" text-anchor="middle">18:00</text>
<text transform="translate(213.5 145) scale(.98 1)" text-anchor="middle">24:00</text>
<text transform="translate(-28.4 68) rotate(-90) scale(.945 1)" text-anchor="middle">Latitude</text>
</g>
<g transform="translate(369 61)">
<g clip-path="url(#pc130)"><g filter="url(#jet)">
<rect x="0" y="0" width="214" height="132" fill="#171717"/>
<ellipse cx="69.46" cy="59.54" rx="109.35" ry="58.51" fill="url(#g54_4)"/>
<ellipse cx="181.92" cy="61.19" rx="58.21" ry="50.28" fill="url(#g13_2)"/>
<ellipse cx="175.3" cy="8.27" rx="72.77" ry="19.85" fill="url(#g33_3)"/>
<path d="M0 14.88L66.15 10.58L132.3 14.88" fill="none" stroke="#2e2e2e" stroke-width="3.97" stroke-linejoin="round" filter="url(#b2)"/>
<path d="M135.61 20.51L158.76 20.84L214.99 18.52" fill="none" stroke="#3d3d3d" stroke-width="4.63" stroke-linejoin="round" filter="url(#b2)"/>
<path d="M142.23 20.51L165.38 20.84" fill="none" stroke="#474747" stroke-width="4.63" stroke-linejoin="round" filter="url(#b3)"/>
<path d="M0 99.23L66.15 106.5L132.3 102.53" fill="none" stroke="#2e2e2e" stroke-width="3.97" stroke-linejoin="round" filter="url(#b2)"/>
<path d="M135.61 97.57L214.99 95.26" fill="none" stroke="#363636" stroke-width="4.63" stroke-linejoin="round" filter="url(#b2)"/>
<path d="M142.23 97.9L165.38 97.24" fill="none" stroke="#3d3d3d" stroke-width="4.63" stroke-linejoin="round" filter="url(#b3)"/>
<ellipse cx="122.38" cy="55.24" rx="39.69" ry="7.94" fill="url(#g71_3)"/>
<ellipse cx="64.5" cy="56.23" rx="80.44" ry="13.76" fill="url(#g87_2)"/>
<ellipse cx="66.15" cy="60.53" rx="66.15" ry="32.28" fill="url(#g97_2)"/>
<ellipse cx="68.47" cy="59.54" rx="52.92" ry="22.23" fill="url(#g107_2)"/>
<ellipse cx="68.14" cy="50.61" rx="45.51" ry="7.94" fill="url(#g125_2)"/>
<ellipse cx="71.77" cy="67.47" rx="38.1" ry="7.41" fill="url(#g125_2)"/>
<ellipse cx="67.14" cy="50.28" rx="33.08" ry="5.95" fill="url(#g138_3)"/>
<ellipse cx="76.07" cy="67.47" rx="26.46" ry="5.95" fill="url(#g138_3)"/>
</g></g>
<path d="M0.5 0.5H214.5 V130.5 H0.5 Z" fill="none" stroke="#000" stroke-width="1" shape-rendering="crispEdges"/>
<path d="M214 28.5h-3M-1 28.5h1M214 64.5h-3M-1 64.5h1M214 100.5h-3M-1 100.5h1M213 129.5h1M-1 1.5h1" stroke="#000" stroke-width="1" shape-rendering="crispEdges"/>
<text transform="translate(106.4 -6) scale(.95 1)" text-anchor="middle">TIEGCM dres TEC 2006 348 LON=92.5 M/D=1.009</text>
<text transform="translate(-5 32.39) scale(.94 1)" text-anchor="end">50</text>
<text transform="translate(-5 68.5) scale(.94 1)" text-anchor="end">0</text>
<text transform="translate(-5 104.61) scale(.94 1)" text-anchor="end">-50</text>
<text transform="translate(-.5 145) scale(.98 1)" text-anchor="middle">00:00</text>
<text transform="translate(53 145) scale(.98 1)" text-anchor="middle">06:00</text>
<text transform="translate(106.5 145) scale(.98 1)" text-anchor="middle">12:00</text>
<text transform="translate(160 145) scale(.98 1)" text-anchor="middle">18:00</text>
<text transform="translate(213.5 145) scale(.98 1)" text-anchor="middle">24:00</text>
<text transform="translate(-28.4 68) rotate(-90) scale(.945 1)" text-anchor="middle">Latitude</text>
</g>
<g transform="translate(84 241)">
<g clip-path="url(#pc130)"><g filter="url(#jet)">
<rect x="0" y="0" width="214" height="132" fill="#171717"/>
<ellipse cx="43" cy="59.54" rx="124.36" ry="62.45" fill="url(#g51_2)"/>
<ellipse cx="6.62" cy="99.23" rx="59.54" ry="26.46" fill="url(#g41_3)"/>
<ellipse cx="162.07" cy="58.87" rx="60.86" ry="50.28" fill="url(#g14_2)"/>
<ellipse cx="165.38" cy="57.88" rx="36.38" ry="26.46" fill="url(#g10_3)"/>
<path d="M0 9.26L66.15 9.26L99.23 12.57L132.3 16.54L165.38 15.88L214.99 13.89" fill="none" stroke="#333333" stroke-width="3.97" stroke-linejoin="round" filter="url(#b2)"/>
<path d="M0 110.8L33.08 107.5L82.69 104.19L132.3 99.23L165.38 98.23L214.99 99.23" fill="none" stroke="#333333" stroke-width="3.97" stroke-linejoin="round" filter="url(#b2)"/>
<ellipse cx="99.23" cy="53.91" rx="32.81" ry="9.53" fill="url(#g76_2)"/>
<ellipse cx="33.08" cy="60.53" rx="67.51" ry="33.54" fill="url(#g97_1)"/>
<ellipse cx="36.38" cy="60.2" rx="55.57" ry="26.46" fill="url(#g107_2)"/>
<ellipse cx="33.08" cy="48.29" rx="52.92" ry="12.17" fill="url(#g138_2)"/>
<ellipse cx="41.34" cy="71.77" rx="44.98" ry="13.76" fill="url(#g133_2)"/>
<ellipse cx="34.73" cy="47.96" rx="37.04" ry="7.41" fill="url(#g158_2)"/>
<ellipse cx="39.69" cy="47.63" rx="14.55" ry="3.97" fill="url(#g184_3)"/>
<ellipse cx="43" cy="71.44" rx="33.08" ry="9.92" fill="url(#g143_3)"/>
<path d="M0 58.87L76.07 58.87" fill="none" stroke="#666666" stroke-width="2.65" stroke-linejoin="round" opacity=".7" filter="url(#b2)"/>
<ellipse cx="216.65" cy="54.57" rx="20.11" ry="19.05" fill="url(#g87_2)"/>
</g></g>
<path d="M0.5 0.5H214.5 V130.5 H0.5 Z" fill="none" stroke="#000" stroke-width="1" shape-rendering="crispEdges"/>
<path d="M214 28.5h-3M-1 28.5h1M214 64.5h-3M-1 64.5h1M214 100.5h-3M-1 100.5h1M210 131.5h4M-1 1.5h1" stroke="#000" stroke-width="1" shape-rendering="crispEdges"/>
<text transform="translate(106.4 -6) scale(.95 1)" text-anchor="middle">TIEGCM dres TEC 2006 348 LON=142.5 M/D=1.1712</text>
<text transform="translate(-5 32.39) scale(.94 1)" text-anchor="end">50</text>
<text transform="translate(-5 68.5) scale(.94 1)" text-anchor="end">0</text>
<text transform="translate(-5 104.61) scale(.94 1)" text-anchor="end">-50</text>
<text transform="translate(-.5 145) scale(.98 1)" text-anchor="middle">00:00</text>
<text transform="translate(53 145) scale(.98 1)" text-anchor="middle">06:00</text>
<text transform="translate(106.5 145) scale(.98 1)" text-anchor="middle">12:00</text>
<text transform="translate(160 145) scale(.98 1)" text-anchor="middle">18:00</text>
<text transform="translate(213.5 145) scale(.98 1)" text-anchor="middle">24:00</text>
<text transform="translate(-28.4 68) rotate(-90) scale(.945 1)" text-anchor="middle">Latitude</text>
</g>
<g transform="translate(369 241)">
<g clip-path="url(#pc130)"><g filter="url(#jet)">
<rect x="0" y="0" width="214" height="132" fill="#171717"/>
<ellipse cx="9.92" cy="61.19" rx="105.84" ry="66.15" fill="url(#g54_2)"/>
<ellipse cx="132.3" cy="62.84" rx="79.38" ry="55.57" fill="url(#g14_2)"/>
<ellipse cx="145.53" cy="61.19" rx="33.08" ry="26.46" fill="url(#g10_3)"/>
<path d="M0 10.91L82.69 14.22L132.3 17.53L214.99 14.88" fill="none" stroke="#333333" stroke-width="3.97" stroke-linejoin="round" filter="url(#b2)"/>
<path d="M0 115.1L66.15 106.83L132.3 103.53L214.99 106.83" fill="none" stroke="#333333" stroke-width="3.97" stroke-linejoin="round" filter="url(#b2)"/>
<ellipse cx="82.69" cy="56.89" rx="47.63" ry="7.41" fill="url(#g61_2)"/>
<ellipse cx="9.92" cy="61.85" rx="65.36" ry="34.4" fill="url(#g97_1)"/>
<ellipse cx="13.23" cy="61.85" rx="50.28" ry="26.46" fill="url(#g107_2)"/>
<ellipse cx="9.92" cy="50.28" rx="50.28" ry="12.17" fill="url(#g138_2)"/>
<ellipse cx="21.5" cy="73.43" rx="42.34" ry="13.23" fill="url(#g128_2)"/>
<ellipse cx="11.58" cy="49.94" rx="30.69" ry="7.41" fill="url(#g158_2)"/>
<ellipse cx="18.19" cy="49.61" rx="13.23" ry="3.97" fill="url(#g176_3)"/>
<ellipse cx="26.46" cy="73.43" rx="29.77" ry="9.92" fill="url(#g138_3)"/>
<path d="M0 61.52L56.23 61.52" fill="none" stroke="#666666" stroke-width="2.65" stroke-linejoin="round" opacity=".7" filter="url(#b2)"/>
<ellipse cx="216.65" cy="62.84" rx="50.28" ry="34.4" fill="url(#g82_2)"/>
<ellipse cx="210.03" cy="52.92" rx="39.69" ry="9.26" fill="url(#g112_3)"/>
<ellipse cx="214.33" cy="73.43" rx="26.46" ry="10.58" fill="url(#g97_3)"/>
</g></g>
<path d="M0.5 0.5H214.5 V130.5 H0.5 Z" fill="none" stroke="#000" stroke-width="1" shape-rendering="crispEdges"/>
<path d="M214 28.5h-3M-1 28.5h1M214 64.5h-3M-1 64.5h1M214 100.5h-3M-1 100.5h1M213 129.5h1M-1 1.5h1" stroke="#000" stroke-width="1" shape-rendering="crispEdges"/>
<text transform="translate(106.4 -6) scale(.95 1)" text-anchor="middle">TIEGCM dres TEC 2006 348 LON=177.5 M/D=1.0782</text>
<text transform="translate(-5 32.39) scale(.94 1)" text-anchor="end">50</text>
<text transform="translate(-5 68.5) scale(.94 1)" text-anchor="end">0</text>
<text transform="translate(-5 104.61) scale(.94 1)" text-anchor="end">-50</text>
<text transform="translate(-.5 145) scale(.98 1)" text-anchor="middle">00:00</text>
<text transform="translate(53 145) scale(.98 1)" text-anchor="middle">06:00</text>
<text transform="translate(106.5 145) scale(.98 1)" text-anchor="middle">12:00</text>
<text transform="translate(160 145) scale(.98 1)" text-anchor="middle">18:00</text>
<text transform="translate(213.5 145) scale(.98 1)" text-anchor="middle">24:00</text>
<text transform="translate(-28.4 68) rotate(-90) scale(.945 1)" text-anchor="middle">Latitude</text>
</g>
<g transform="translate(84 421)">
<g clip-path="url(#pc130)"><g filter="url(#jet)">
<rect x="0" y="0" width="214" height="132" fill="#171717"/>
<ellipse cx="0" cy="64.5" rx="105.84" ry="60.86" fill="url(#g54_2)"/>
<ellipse cx="216.65" cy="64.5" rx="97.9" ry="58.21" fill="url(#g54_2)"/>
<ellipse cx="0" cy="19.85" rx="52.92" ry="29.77" fill="url(#g51_3)"/>
<ellipse cx="0" cy="105.84" rx="59.54" ry="26.46" fill="url(#g46_3)"/>
<ellipse cx="198.45" cy="43" rx="52.92" ry="33.08" fill="url(#g61_3)"/>
<ellipse cx="79.38" cy="33.08" rx="49.61" ry="26.46" fill="url(#g14_3)"/>
<ellipse cx="135.61" cy="66.15" rx="43" ry="36.38" fill="url(#g11_3)"/>
<ellipse cx="105.84" cy="89.3" rx="49.61" ry="29.77" fill="url(#g13_3)"/>
<path d="M0 13.23L66.15 14.88L132.3 18.19L214.99 14.88" fill="none" stroke="#333333" stroke-width="3.97" stroke-linejoin="round" filter="url(#b2)"/>
<path d="M0 117.42L66.15 110.8L132.3 107.5L214.99 114.11" fill="none" stroke="#333333" stroke-width="3.97" stroke-linejoin="round" filter="url(#b2)"/>
<ellipse cx="0" cy="53.91" rx="59.34" ry="18.92" fill="url(#g97_1)"/>
<ellipse cx="0" cy="75.41" rx="63.64" ry="19.35" fill="url(#g97_1)"/>
<ellipse cx="0" cy="52.26" rx="34.4" ry="10.06" fill="url(#g138_2)"/>
<ellipse cx="14.88" cy="75.41" rx="32.81" ry="10.58" fill="url(#g125_2)"/>
<ellipse cx="3.97" cy="52.26" rx="27.78" ry="7.94" fill="url(#g161_3)"/>
<ellipse cx="18.85" cy="75.41" rx="21.17" ry="7.28" fill="url(#g138_3)"/>
<ellipse cx="216.65" cy="59.54" rx="65.36" ry="24.94" fill="url(#g87_1)"/>
<ellipse cx="216.65" cy="75.41" rx="40.85" ry="19.35" fill="url(#g87_1)"/>
<ellipse cx="200.11" cy="55.24" rx="37.04" ry="8.47" fill="url(#g122_2)"/>
<ellipse cx="189.19" cy="55.57" rx="19.85" ry="6.62" fill="url(#g135_3)"/>
<ellipse cx="215.65" cy="49.61" rx="16.54" ry="14.55" fill="url(#g122_3)"/>
<ellipse cx="211.68" cy="76.74" rx="23.81" ry="10.58" fill="url(#g102_2)"/>
<ellipse cx="191.18" cy="42.34" rx="13.23" ry="7.94" fill="url(#g56_3)"/>
</g></g>
<path d="M0.5 0.5H214.5 V130.5 H0.5 Z" fill="none" stroke="#000" stroke-width="1" shape-rendering="crispEdges"/>
<path d="M214 28.5h-3M-1 28.5h1M214 64.5h-3M-1 64.5h1M214 100.5h-3M-1 100.5h1M210 131.5h4M-1 1.5h1" stroke="#000" stroke-width="1" shape-rendering="crispEdges"/>
<text transform="translate(106.4 -6) scale(.95 1)" text-anchor="middle">TIEGCM dres TEC 2006 348 LON=-157.5 M/D=1.1828</text>
<text transform="translate(-5 33.39) scale(.94 1)" text-anchor="end">50</text>
<text transform="translate(-5 69.5) scale(.94 1)" text-anchor="end">0</text>
<text transform="translate(-5 105.61) scale(.94 1)" text-anchor="end">-50</text>
<text transform="translate(-.5 146) scale(.98 1)" text-anchor="middle">00:00</text>
<text transform="translate(53 146) scale(.98 1)" text-anchor="middle">06:00</text>
<text transform="translate(106.5 146) scale(.98 1)" text-anchor="middle">12:00</text>
<text transform="translate(160 146) scale(.98 1)" text-anchor="middle">18:00</text>
<text transform="translate(213.5 146) scale(.98 1)" text-anchor="middle">24:00</text>
<text transform="translate(-28.4 69.3) rotate(-90) scale(.945 1)" text-anchor="middle">Latitude</text>
</g>
<g transform="translate(369 421)">
<g clip-path="url(#pc130)"><g filter="url(#jet)">
<rect x="0" y="0" width="214" height="132" fill="#171717"/>
<ellipse cx="0" cy="66.15" rx="74.09" ry="55.57" fill="url(#g51_2)"/>
<ellipse cx="180.26" cy="59.54" rx="89.97" ry="68.8" fill="url(#g54_2)"/>
<ellipse cx="90.96" cy="66.15" rx="63.51" ry="60.86" fill="url(#g13_2)"/>
<ellipse cx="6.62" cy="6.62" rx="26.46" ry="26.46" fill="url(#g41_3)"/>
<path d="M0 18.19L66.15 21.5L132.3 24.81L214.99 19.85" fill="none" stroke="#303030" stroke-width="3.97" stroke-linejoin="round" filter="url(#b2)"/>
<path d="M0 122.38L99.23 119.73L214.99 122.38" fill="none" stroke="#2e2e2e" stroke-width="3.97" stroke-linejoin="round" filter="url(#b2)"/>
<ellipse cx="0" cy="66.15" rx="39.69" ry="34.4" fill="url(#g92_2)"/>
<ellipse cx="24.81" cy="66.15" rx="33.08" ry="9.26" fill="url(#g76_3)"/>
<ellipse cx="0" cy="58.87" rx="39.69" ry="11.91" fill="url(#g117_3)"/>
<ellipse cx="0" cy="78.39" rx="33.08" ry="10.58" fill="url(#g117_3)"/>
<ellipse cx="175.3" cy="79.38" rx="58.21" ry="26.46" fill="url(#g87_2)"/>
<ellipse cx="181.92" cy="59.54" rx="66.15" ry="48.69" fill="url(#g97_2)"/>
<ellipse cx="175.96" cy="51.27" rx="30.69" ry="21.17" fill="url(#g128_2)"/>
<ellipse cx="177.29" cy="50.94" rx="23.81" ry="17.2" fill="url(#g163_3)"/>
<ellipse cx="198.45" cy="79.38" rx="23.15" ry="10.58" fill="url(#g107_3)"/>
</g></g>
<path d="M0.5 0.5H214.5 V130.5 H0.5 Z" fill="none" stroke="#000" stroke-width="1" shape-rendering="crispEdges"/>
<path d="M214 28.5h-3M-1 28.5h1M214 64.5h-3M-1 64.5h1M214 100.5h-3M-1 100.5h1M213 129.5h1M-1 1.5h1" stroke="#000" stroke-width="1" shape-rendering="crispEdges"/>
<text transform="translate(106.4 -6) scale(.95 1)" text-anchor="middle">TIEGCM dres TEC 2006 348 LON=-107.5 M/D=1.6887</text>
<text transform="translate(-5 33.39) scale(.94 1)" text-anchor="end">50</text>
<text transform="translate(-5 69.5) scale(.94 1)" text-anchor="end">0</text>
<text transform="translate(-5 105.61) scale(.94 1)" text-anchor="end">-50</text>
<text transform="translate(-.5 146) scale(.98 1)" text-anchor="middle">00:00</text>
<text transform="translate(53 146) scale(.98 1)" text-anchor="middle">06:00</text>
<text transform="translate(106.5 146) scale(.98 1)" text-anchor="middle">12:00</text>
<text transform="translate(160 146) scale(.98 1)" text-anchor="middle">18:00</text>
<text transform="translate(213.5 146) scale(.98 1)" text-anchor="middle">24:00</text>
<text transform="translate(-28.4 69.3) rotate(-90) scale(.945 1)" text-anchor="middle">Latitude</text>
</g>
<g transform="translate(84 601)">
<g clip-path="url(#pc131)"><g filter="url(#jet)" transform="scale(1 1.01)">
<rect x="0" y="0" width="214" height="132" fill="#171717"/>
<ellipse cx="0" cy="71.11" rx="52.92" ry="31.75" fill="url(#g46_2)"/>
<ellipse cx="165.38" cy="62.84" rx="100.55" ry="68.8" fill="url(#g56_2)"/>
<ellipse cx="198.45" cy="29.77" rx="39.69" ry="26.46" fill="url(#g46_3)"/>
<ellipse cx="76.07" cy="72.77" rx="66.15" ry="52.92" fill="url(#g13_2)"/>
<path d="M0 22.49L66.15 24.81L132.3 22.49L214.99 23.81" fill="none" stroke="#383838" stroke-width="3.97" stroke-linejoin="round" filter="url(#b2)"/>
<path d="M0 125.69L99.23 124.03L214.99 122.38" fill="none" stroke="#2e2e2e" stroke-width="3.97" stroke-linejoin="round" filter="url(#b2)"/>
<ellipse cx="0" cy="66.48" rx="47.63" ry="13.23" fill="url(#g82_2)"/>
<ellipse cx="168.69" cy="62.84" rx="47.3" ry="43" fill="url(#g74_1)"/>
<ellipse cx="168.69" cy="57.88" rx="42.34" ry="42.34" fill="url(#g87_2)"/>
<ellipse cx="171.99" cy="39.69" rx="23.81" ry="21.17" fill="url(#g94_2)"/>
<ellipse cx="165.38" cy="63.51" rx="52.92" ry="14.82" fill="url(#g97_2)"/>
<ellipse cx="180.26" cy="81.04" rx="18.52" ry="20.11" fill="url(#g92_2)"/>
<ellipse cx="155.46" cy="76.74" rx="19.85" ry="7.94" fill="url(#g66_3)"/>
<ellipse cx="171.99" cy="49.61" rx="18.52" ry="29.77" fill="url(#g112_3)"/>
<ellipse cx="165.38" cy="61.19" rx="29.11" ry="10.58" fill="url(#g128_2)"/>
<ellipse cx="174.31" cy="56.23" rx="11.91" ry="19.85" fill="url(#g138_3)"/>
<ellipse cx="173.65" cy="60.53" rx="10.58" ry="9.26" fill="url(#g158_3)"/>
<ellipse cx="193.49" cy="66.15" rx="13.23" ry="7.94" fill="url(#g112_3)"/>
</g></g>
<path d="M0.5 0.5H214.5 V131.5 H0.5 Z" fill="none" stroke="#000" stroke-width="1" shape-rendering="crispEdges"/>
<path d="M214 29.5h-3M-1 29.5h1M214 66.5h-3M-1 66.5h1M214 102.5h-3M-1 102.5h1M210 132.5h4M-1 1.5h1" stroke="#000" stroke-width="1" shape-rendering="crispEdges"/>
<text transform="translate(106.4 -6) scale(.95 1)" text-anchor="middle">TIEGCM dres TEC 2006 348 LON=-72.5 M/D=1.0384</text>
<text transform="translate(-5 34.21) scale(.94 1)" text-anchor="end">50</text>
<text transform="translate(-5 70.6) scale(.94 1)" text-anchor="end">0</text>
<text transform="translate(-5 106.99) scale(.94 1)" text-anchor="end">-50</text>
<text transform="translate(-.5 147) scale(.98 1)" text-anchor="middle">00:00</text>
<text transform="translate(53 147) scale(.98 1)" text-anchor="middle">06:00</text>
<text transform="translate(106.5 147) scale(.98 1)" text-anchor="middle">12:00</text>
<text transform="translate(160 147) scale(.98 1)" text-anchor="middle">18:00</text>
<text transform="translate(213.5 147) scale(.98 1)" text-anchor="middle">24:00</text>
<text transform="translate(-28.4 70.58) rotate(-90) scale(.945 1)" text-anchor="middle">Latitude</text>
</g>
<g transform="translate(369 601)">
<g clip-path="url(#pc131)"><g filter="url(#jet)" transform="scale(1 1.01)">
<rect x="0" y="0" width="214" height="132" fill="#141414"/>
<ellipse cx="135.61" cy="64.5" rx="94.96" ry="63.31" fill="url(#g54_4)"/>
<ellipse cx="36.38" cy="57.88" rx="55.57" ry="29.11" fill="url(#g10_2)"/>
<ellipse cx="214.99" cy="59.54" rx="33.08" ry="46.31" fill="url(#g20_3)"/>
<ellipse cx="178.61" cy="6.62" rx="72.77" ry="19.85" fill="url(#g38_3)"/>
<path d="M0 18.19L49.61 18.19L132.3 11.58" fill="none" stroke="#292929" stroke-width="3.97" stroke-linejoin="round" filter="url(#b2)"/>
<path d="M0 18.19L43 18.19" fill="none" stroke="#333333" stroke-width="3.97" stroke-linejoin="round" filter="url(#b3)"/>
<path d="M135.61 19.18L214.99 19.18" fill="none" stroke="#333333" stroke-width="4.63" stroke-linejoin="round" filter="url(#b2)"/>
<path d="M0 117.42L214.99 117.42" fill="none" stroke="#212121" stroke-width="4.63" stroke-linejoin="round" filter="url(#b2)"/>
<path d="M0 117.42L36.38 117.42" fill="none" stroke="#2e2e2e" stroke-width="3.97" stroke-linejoin="round" filter="url(#b3)"/>
<ellipse cx="129.66" cy="59.54" rx="71.44" ry="24.34" fill="url(#g92_2)"/>
<ellipse cx="137.93" cy="59.54" rx="66.15" ry="28.58" fill="url(#g97_2)"/>
<ellipse cx="138.92" cy="58.54" rx="52.92" ry="19.05" fill="url(#g112_2)"/>
<ellipse cx="143.88" cy="51.93" rx="44.98" ry="6.88" fill="url(#g125_2)"/>
<ellipse cx="138.92" cy="64.83" rx="37.04" ry="6.35" fill="url(#g122_2)"/>
<ellipse cx="148.84" cy="51.27" rx="29.77" ry="5.95" fill="url(#g143_3)"/>
</g></g>
<path d="M0.5 0.5H214.5 V131.5 H0.5 Z" fill="none" stroke="#000" stroke-width="1" shape-rendering="crispEdges"/>
<path d="M214 29.5h-3M-1 29.5h1M214 66.5h-3M-1 66.5h1M214 102.5h-3M-1 102.5h1M213 130.5h1M-1 1.5h1" stroke="#000" stroke-width="1" shape-rendering="crispEdges"/>
<text transform="translate(106.4 -6) scale(.95 1)" text-anchor="middle">TIEGCM dres TEC 2006 348 LON=-12.5 M/D=1.4081</text>
<text transform="translate(-5 34.21) scale(.94 1)" text-anchor="end">50</text>
<text transform="translate(-5 70.6) scale(.94 1)" text-anchor="end">0</text>
<text transform="translate(-5 106.99) scale(.94 1)" text-anchor="end">-50</text>
<text transform="translate(-.5 147) scale(.98 1)" text-anchor="middle">00:00</text>
<text transform="translate(53 147) scale(.98 1)" text-anchor="middle">06:00</text>
<text transform="translate(106.5 147) scale(.98 1)" text-anchor="middle">12:00</text>
<text transform="translate(160 147) scale(.98 1)" text-anchor="middle">18:00</text>
<text transform="translate(213.5 147) scale(.98 1)" text-anchor="middle">24:00</text>
<text transform="translate(-28.4 70.58) rotate(-90) scale(.945 1)" text-anchor="middle">Latitude</text>
</g>
<rect x="226" y="756" width="218" height="13" fill="url(#cb)"/>
<rect x="226.5" y="756.5" width="218" height="13" fill="none" stroke="#000" shape-rendering="crispEdges"/>
<path d="M269.5 757v2M269.5 769v-2M313.5 757v2M313.5 769v-2M356.5 757v2M356.5 769v-2M400.5 757v2M400.5 769v-2" stroke="#000" shape-rendering="crispEdges"/>
<text transform="translate(225.3 785) scale(.98 1)" text-anchor="middle">0</text>
<text transform="translate(268.9 785) scale(.98 1)" text-anchor="middle">10</text>
<text transform="translate(312.5 785) scale(.98 1)" text-anchor="middle">20</text>
<text transform="translate(356.1 785) scale(.98 1)" text-anchor="middle">30</text>
<text transform="translate(399.7 785) scale(.98 1)" text-anchor="middle">40</text>
<text transform="translate(443.3 785) scale(.98 1)" text-anchor="middle">50</text>
</svg></body></html>
